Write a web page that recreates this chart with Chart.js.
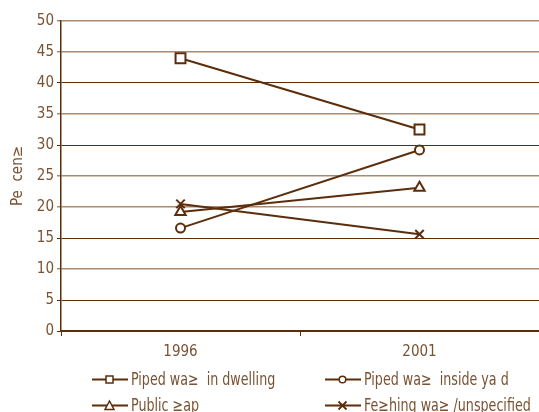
<!DOCTYPE html>
<html>
<head>
<meta charset="utf-8">
<script src="https://cdn.jsdelivr.net/npm/chart.js@4/dist/chart.umd.min.js"></script>
<style>
  html, body { margin: 0; padding: 0; background: #fff; }
  #wrap { position: relative; width: 539px; height: 412px; }
  #legend { position: absolute; left: 0; top: 369px; width: 539px; font-family: "DejaVu Sans Condensed", "Liberation Sans Narrow", sans-serif; font-size: 17px; color: #7a5232; }
  .item { position: absolute; display: flex; align-items: center; white-space: pre; }
  .item svg { margin-right: 3px; }
  .item span { display: inline-block; transform: scaleX(0.83); transform-origin: left center; }
</style>
</head>
<body>
<div id="wrap">
  <canvas id="chart" width="539" height="412"></canvas>
  <div id="legend"></div>
</div>
<script>
const years = ["1996", "2001"];
const pipedDwelling = [44.0, 32.5];
const pipedYard = [16.6, 29.2];
const publicTap = [19.2, 23.1];
const fetching = [20.5, 15.6];
const yTicks = [0, 5, 10, 15, 20, 25, 30, 35, 40, 45, 50];

const brown = "#5c2d0a";
const textBrown = "#7a5232";
const lightGrid = "#a98b74";
// which gridlines look pale in the original (by tick index from 0 up)
const paleLines = [false, false, true, false, true, true, false, true, false, true, true];

function series(label, data, style, radius) {
  return {
    label: label,
    data: data,
    borderColor: brown,
    backgroundColor: "#fff",
    borderWidth: 2,
    pointStyle: style,
    pointRadius: radius,
    pointBorderWidth: 2,
    pointBorderColor: brown,
    pointBackgroundColor: "#fff",
    tension: 0,
  };
}

const datasets = [
  series("Piped wa\u2265  in dwelling", pipedDwelling, "rect", 7),
  series("Piped wa\u2265  inside ya d", pipedYard, "circle", 4.5),
  series("Public \u2265ap", publicTap, "triangle", 6),
  series("Fe\u2265hing wa\u2265 /unspecified", fetching, "crossRot", 6),
];

const font = { family: "'DejaVu Sans Condensed', 'Liberation Sans Narrow', sans-serif", size: 15 };

new Chart(document.getElementById("chart"), {
  type: "line",
  data: { labels: years, datasets: datasets },
  options: {
    responsive: false,
    animation: false,
    layout: { autoPadding: false, padding: { top: 21, right: 0, left: 0, bottom: 0 } },
    plugins: { legend: { display: false }, tooltip: { enabled: false } },
    scales: {
      x: {
        offset: true,
        grid: { offset: true, drawOnChartArea: false, drawTicks: true, tickLength: 5, color: brown, lineWidth: 1 },
        border: { color: brown, width: 1.5 },
        ticks: { color: textBrown, font: font, padding: 7 },
        afterFit: (scale) => {
          scale.height = 81;
          scale.paddingLeft = 0;
          scale.paddingRight = 0;
        },
      },
      y: {
        min: 0,
        max: 50,
        afterBuildTicks: (scale) => { scale.ticks = yTicks.map(v => ({ value: v })); },
        grid: {
          tickLength: 4,
          color: (ctx) => paleLines[ctx.index] ? lightGrid : brown,
          lineWidth: (ctx) => paleLines[ctx.index] ? 1.5 : 1,
        },
        border: { color: brown, width: 1.5 },
        ticks: { color: textBrown, font: font, padding: 3 },
        title: { display: true, text: "Pe  cen\u2265", color: textBrown, font: { family: font.family, size: 15 }, padding: { top: 9, bottom: 0 } },
        afterFit: (scale) => { scale.width = 61; },
      },
    },
  },
});

// legend: two columns, line with marker then label
const legendPos = [
  { left: 92, top: 0 }, { left: 325, top: 0 },
  { left: 92, top: 26 }, { left: 325, top: 26 },
];

function markerSvg(style) {
  let m = "";
  if (style === "rect") m = '<rect x="14" y="5" width="7" height="7" fill="#fff" stroke="' + brown + '" stroke-width="1.5"/>';
  if (style === "circle") m = '<circle cx="17.5" cy="8.5" r="3.3" fill="#fff" stroke="' + brown + '" stroke-width="1.5"/>';
  if (style === "triangle") m = '<polygon points="17.5,4 22,12.5 13,12.5" fill="#fff" stroke="' + brown + '" stroke-width="1.5"/>';
  if (style === "crossRot") m = '<path d="M13.5 4.5 L21.5 12.5 M21.5 4.5 L13.5 12.5" stroke="' + brown + '" stroke-width="1.8"/>';
  return '<svg width="36" height="17"><line x1="0" y1="8.5" x2="36" y2="8.5" stroke="' + brown + '" stroke-width="2"/>' + m + '</svg>';
}

const legendEl = document.getElementById("legend");
datasets.forEach((ds, i) => {
  const div = document.createElement("div");
  div.className = "item";
  div.style.left = legendPos[i].left + "px";
  div.style.top = legendPos[i].top + "px";
  div.innerHTML = markerSvg(ds.pointStyle) + "<span>" + ds.label + "</span>";
  legendEl.appendChild(div);
});
</script>
</body>
</html>
